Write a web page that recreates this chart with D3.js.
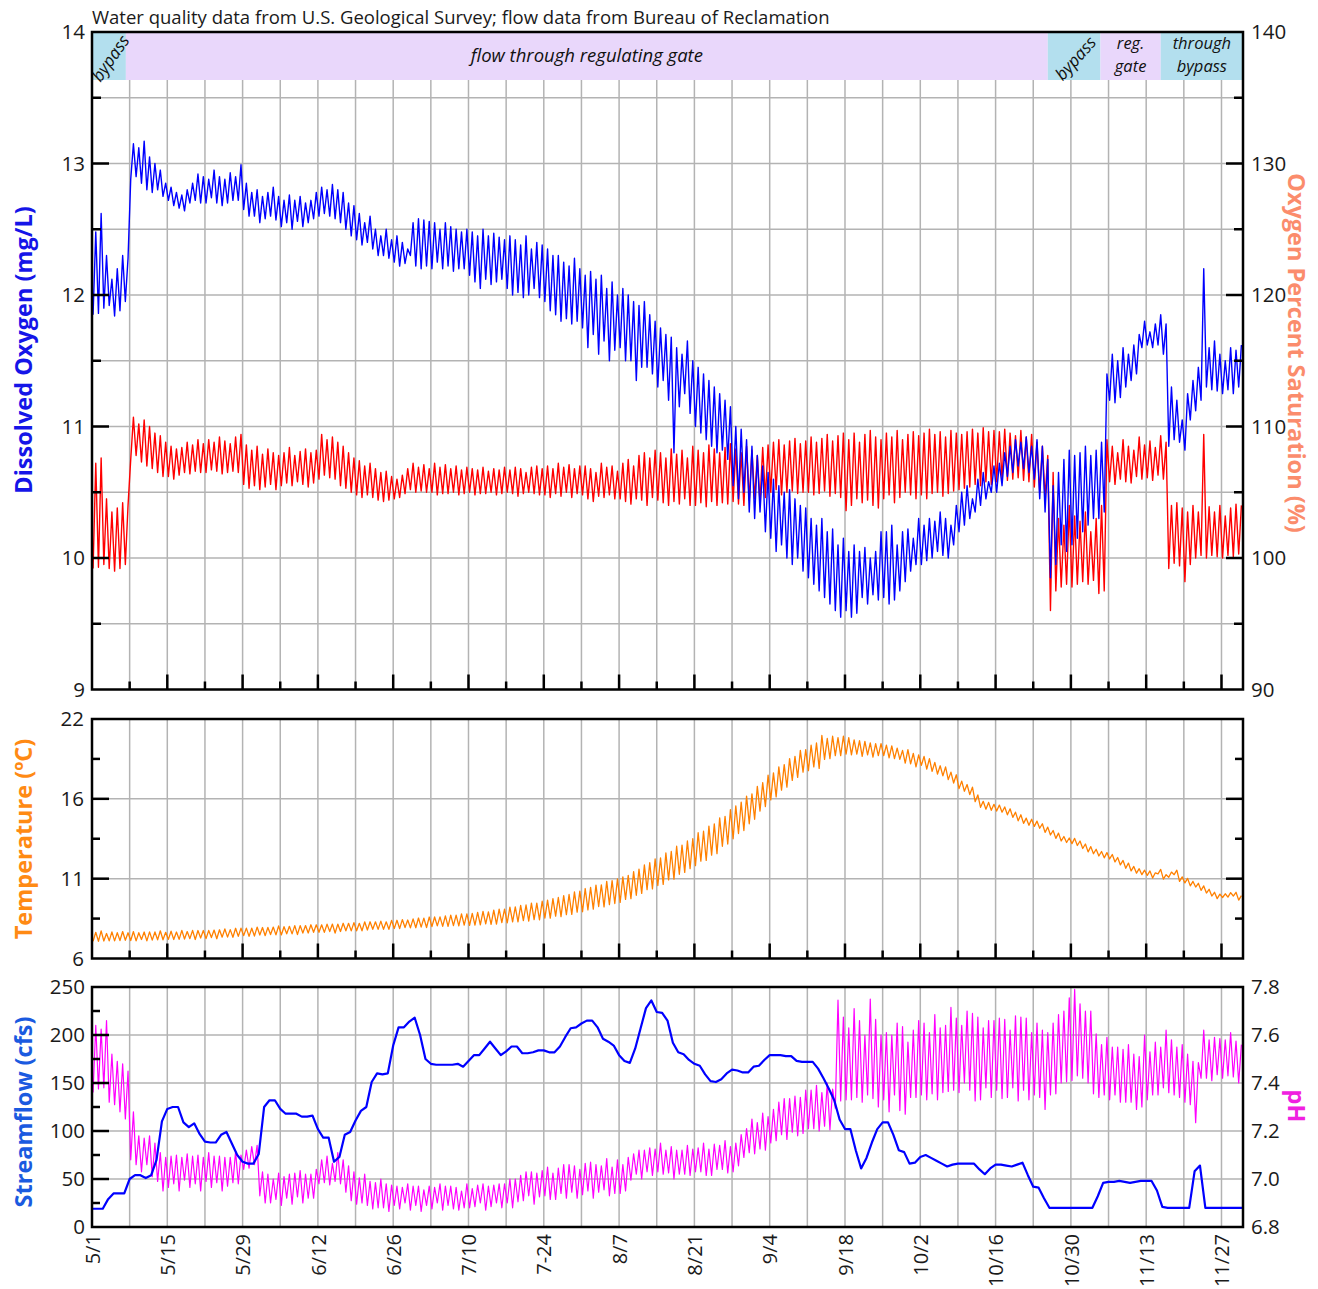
<!DOCTYPE html>
<html><head><meta charset="utf-8">
<script src="https://cdn.jsdelivr.net/npm/d3@7"></script>
<style>
body{margin:0;background:#fff;}
svg text{font-family:"Open Sans","Noto Sans",sans-serif;}
</style></head><body>
<svg id="chart" width="1318" height="1289"></svg>
<script>
// ---------------- DATA (daily values, day 0 = May 1) ----------------
const doMax = [12.48,12.62,12.3,12.12,12.2,12.3,12.28, 13.15,13.12,13.17,13.05,13.0,12.95,12.85,
12.82,12.78,12.76,12.8,12.85,12.92,12.9, 12.88,12.95,12.9,12.88,12.93,12.9,12.99,
12.85,12.78,12.8,12.75,12.78,12.82,12.75, 12.72,12.76,12.72,12.75,12.7,12.72,12.78,
12.82,12.8,12.84,12.8,12.78,12.7,12.68, 12.62,12.55,12.6,12.5,12.45,12.5,12.42,
12.45,12.4,12.35,12.55,12.58,12.57,12.56, 12.55,12.5,12.55,12.52,12.5,12.48,12.5,
12.48,12.45,12.5,12.45,12.47,12.44,12.42, 12.45,12.42,12.38,12.45,12.35,12.4,12.38,
12.35,12.3,12.3,12.25,12.22,12.28,12.2, 12.15,12.18,12.12,12.15,12.05,12.1,12.0,
12.05,12.0,11.95,11.92,11.95,11.85,11.8, 11.75,11.7,11.68,11.6,11.55,11.65,11.5,
11.45,11.4,11.35,11.3,11.25,11.2,11.15, 11.0,10.98,10.9,10.85,10.78,10.7,10.65,
10.6,10.55,10.5,10.52,10.45,10.4,10.38, 10.3,10.25,10.3,10.2,10.22,10.1,10.15,
10.05,10.1,10.05,10.08,10.0,10.05,10.2, 10.2,10.25,10.1,10.2,10.22,10.15,10.3,
10.25,10.3,10.28,10.35,10.3,10.25,10.4, 10.5,10.55,10.45,10.6,10.65,10.58,10.7,
10.72,10.8,10.85,10.9,10.88,10.92,10.85, 10.9,10.85,10.75,10.55,10.65,10.75,10.82,
10.78,10.8,10.85,10.78,10.82,10.88,11.4, 11.55,11.5,11.6,11.55,11.62,11.7,11.8,
11.72,11.78,11.85,11.78,11.3,11.2,11.05, 11.25,11.35,11.45,12.2,11.6,11.65,11.55,
11.5,11.6,11.58,11.62];
const doMin = [11.85,11.86,11.9,11.92,11.84,11.88,11.95, 12.88,12.9,12.85,12.8,12.78,12.8,12.75,
12.72,12.68,12.66,12.64,12.7,12.72,12.7, 12.7,12.74,12.7,12.68,12.7,12.72,12.72,
12.65,12.6,12.6,12.55,12.58,12.6,12.57, 12.52,12.55,12.5,12.56,12.52,12.55,12.58,
12.6,12.62,12.6,12.58,12.55,12.5,12.45, 12.42,12.38,12.4,12.35,12.3,12.3,12.28,
12.25,12.22,12.24,12.3,12.22,12.2,12.22, 12.2,12.25,12.2,12.22,12.18,12.2,12.2,
12.15,12.1,12.05,12.12,12.08,12.1,12.12, 12.05,12.0,12.02,11.98,12.0,12.05,11.98,
11.95,11.88,11.85,11.8,11.82,11.78,11.8, 11.75,11.6,11.7,11.55,11.65,11.5,11.58,
11.6,11.5,11.5,11.35,11.45,11.45,11.4, 11.3,11.35,11.2,10.8,11.15,11.25,11.1,
11.0,10.95,10.9,10.85,10.8,10.82,10.75, 10.55,10.45,10.5,10.35,10.3,10.35,10.2,
10.15,10.05,10.1,10.0,9.95,10.0,9.9, 9.85,9.8,9.75,9.7,9.65,9.6,9.55,
9.6,9.55,9.58,9.7,9.65,9.72,9.68, 9.7,9.65,9.68,9.75,9.82,9.9,9.95,
9.95,9.98,10.0,10.05,10.02,10.0,10.1, 10.2,10.25,10.3,10.35,10.4,10.45,10.5,
10.5,10.55,10.62,10.65,10.7,10.68,10.65, 10.6,10.45,10.35,9.85,9.95,10.1,10.05,
10.1,10.15,10.2,10.25,10.3,10.3,10.35, 11.2,11.18,11.22,11.3,11.35,11.4,11.6,
11.62,11.6,11.62,11.55,10.85,10.9,10.88, 10.82,11.05,11.12,11.2,11.3,11.28,11.27,
11.25,11.28,11.25,11.3];
const satMax = [107.2,107.6,104.5,103.5,103.8,104.2,104.0, 110.7,110.2,110.5,110.0,109.5,109.3,108.8,
108.5,108.3,108.4,108.8,108.6,109.0,108.7, 109.0,108.8,109.2,108.9,108.7,109.2,109.4,
108.6,108.2,108.5,107.9,108.3,108.0,107.8, 108.0,108.4,107.8,108.1,108.3,108.0,108.2,
109.4,109.0,109.2,108.8,108.5,108.0,107.6, 107.4,107.0,107.2,106.8,106.5,106.6,106.2,
106.0,106.3,106.8,107.2,106.9,107.1,106.8, 107.2,106.9,107.1,106.8,107.0,106.7,106.9,
106.8,106.7,106.9,106.6,106.8,106.7,106.9, 106.7,106.9,106.8,106.5,106.9,107.0,106.8,
107.0,106.8,107.2,106.9,107.1,106.8,107.0, 107.0,106.8,106.5,107.2,106.9,107.0,106.6,
107.2,107.5,107.0,107.8,108.0,107.6,108.2, 108.0,107.6,108.3,107.9,108.2,107.6,108.5,
108.2,108.0,108.6,108.3,108.0,108.4,108.7, 108.3,108.0,108.5,108.2,107.8,108.4,108.6,
108.8,109.0,108.6,108.9,109.1,108.7,108.9, 109.2,108.8,109.1,109.4,108.9,109.3,109.5,
109.0,109.5,108.8,109.4,109.7,109.2,109.0, 109.5,109.2,109.7,109.0,109.4,109.6,109.3,
109.5,109.8,109.4,109.6,109.2,109.7,109.5, 109.4,109.6,109.8,109.5,109.9,109.6,109.7,
109.6,109.8,109.5,109.3,109.7,109.2,109.4, 108.8,108.5,107.8,106.5,103.0,102.5,104.0,
103.2,102.8,103.5,102.0,103.0,104.0,109.0, 108.5,108.0,109.0,108.5,108.2,109.2,108.6,
108.9,108.4,109.3,108.8,104.0,104.2,103.8, 103.5,104.0,103.5,109.4,103.9,103.5,104.0,
103.2,103.8,104.1,104.0];
const satMin = [99.2,99.3,99.5,99.2,99.0,99.2,99.5, 107.5,107.8,107.3,107.0,106.8,106.5,106.2,
106.2,106.0,106.3,106.5,106.4,106.6,106.5, 106.5,106.7,106.6,106.4,106.5,106.6,106.5,
105.6,105.3,105.5,105.2,105.4,105.6,105.2, 105.5,105.7,105.5,105.8,105.6,105.4,105.7,
106.0,106.3,106.1,106.0,105.5,105.3,105.0, 104.8,104.6,104.8,104.6,104.4,104.3,104.4,
104.5,104.6,104.9,105.2,105.0,105.1,105.0, 105.0,104.8,104.9,104.9,105.0,104.8,104.9,
105.0,104.8,104.9,104.9,105.0,104.8,104.9, 105.0,104.9,104.7,104.9,105.0,104.9,104.8,
104.8,104.6,104.9,104.7,105.0,104.6,104.9, 104.8,104.5,104.3,104.7,104.6,104.8,104.5,
104.5,104.3,104.1,104.5,104.4,104.0,104.6, 104.4,104.2,104.0,104.3,104.1,104.5,104.0,
104.0,104.2,103.9,104.3,104.0,104.2,104.1, 104.3,104.1,104.0,104.4,104.5,104.2,104.6,
105.0,105.2,104.8,105.0,105.1,104.9,105.0, 105.0,104.8,104.9,105.1,104.7,104.9,104.6,
103.6,104.0,104.5,104.2,104.4,104.0,103.8, 104.5,104.8,104.2,104.6,105.0,104.8,104.5,
104.8,104.5,104.9,105.0,104.7,104.9,105.1, 105.2,105.3,105.4,105.6,105.5,105.8,105.6,
105.8,106.0,105.9,106.0,106.1,105.9,105.8, 105.4,105.0,104.6,96.0,97.5,97.8,98.0,
97.8,98.0,98.2,98.0,98.3,97.3,97.5, 105.8,105.6,106.0,105.8,105.7,106.2,106.0,
106.1,105.9,106.3,106.0,99.2,99.6,99.4, 98.2,99.5,100.0,100.2,100.0,100.2,100.1,
100.0,100.2,100.1,100.3];
const tempMean = [7.45,7.5,7.42,7.48,7.45,7.5,7.47,7.5,7.45,7.52,7.48,7.5,7.55,7.5,
7.55,7.52,7.58,7.55,7.6,7.57,7.62,7.6,7.65,7.62,7.7,7.68,7.72,7.75,
7.78,7.75,7.8,7.82,7.8,7.85,7.88,7.85,7.9,7.92,7.9,7.95,7.98,8.0,
8.0,8.02,8.05,8.0,8.08,8.1,8.12,8.1,8.15,8.18,8.2,8.22,8.2,8.25,
8.28,8.3,8.32,8.35,8.38,8.4,8.42,8.45,8.48,8.5,8.52,8.55,8.58,8.6,
8.62,8.65,8.7,8.72,8.75,8.8,8.85,8.9,8.95,9.0,9.05,9.1,9.15,9.2,
9.3,9.35,9.45,9.5,9.6,9.7,9.8,9.9,10.0,10.1,10.2,10.3,10.4,10.5,
10.6,10.75,10.9,11.1,11.3,11.5,11.65,11.8,12.0,12.2,12.4,12.6,12.8,13.0,
13.3,13.5,13.7,13.95,14.2,14.5,14.8,15.1,15.4,15.7,16.0,16.4,16.8,17.2,
17.5,17.8,18.1,18.4,18.7,19.0,19.2,19.4,19.6,19.8,20.0,20.1,20.15,20.2,
20.2,20.1,20.1,20.0,20.0,19.9,19.95,19.9,19.8,19.7,19.6,19.5,19.35,19.2,
19.2,19.0,18.8,18.6,18.5,18.2,18.0,17.6,17.4,17.2,16.7,16.3,16.2,16.1,
16.05,15.95,15.8,15.6,15.4,15.2,15.1,15.0,14.85,14.6,14.4,14.2,14.0,13.9,
13.85,13.7,13.5,13.3,13.15,13.0,12.9,12.8,12.6,12.4,12.2,12.0,11.85,11.75,
11.7,11.55,11.8,11.45,11.6,11.75,11.3,11.2,11.0,10.9,10.7,10.5,10.3,10.15,
10.2,10.25,10.3,10.05];
const tempRange = [0.6,0.7,0.5,0.6,0.55,0.6,0.5,0.6,0.55,0.5,0.6,0.55,0.6,0.5,
0.55,0.5,0.6,0.5,0.55,0.6,0.5,0.55,0.5,0.6,0.55,0.5,0.6,0.55,
0.5,0.55,0.6,0.5,0.55,0.5,0.6,0.55,0.5,0.55,0.6,0.5,0.55,0.5,
0.5,0.55,0.5,0.6,0.55,0.5,0.55,0.5,0.6,0.55,0.5,0.55,0.5,0.6,
0.55,0.6,0.5,0.6,0.65,0.6,0.7,0.65,0.6,0.7,0.75,0.7,0.8,0.75,
0.8,0.85,0.9,0.8,0.95,1.0,0.9,1.05,1.0,1.1,1.05,1.2,1.1,1.25,
1.2,1.3,1.25,1.4,1.35,1.5,1.4,1.55,1.5,1.6,1.45,1.7,1.6,1.65,
1.7,1.6,1.8,1.75,1.9,1.8,2.0,1.85,2.1,1.9,2.2,1.95,2.1,2.0,
2.2,2.0,2.3,2.1,2.4,2.0,2.3,2.2,2.1,2.3,2.0,2.2,1.9,2.1,
1.8,2.0,1.7,1.9,1.6,1.8,1.5,1.7,1.6,2.2,1.4,1.5,1.2,1.3,
1.1,1.0,0.9,1.0,0.8,0.9,0.8,0.7,0.8,0.7,0.6,0.9,0.7,0.8,
0.6,0.7,0.6,0.55,0.6,0.5,0.55,0.5,0.45,0.5,0.45,0.4,0.45,0.4,
0.4,0.35,0.4,0.35,0.4,0.35,0.4,0.35,0.3,0.35,0.3,0.35,0.3,0.3,
0.35,0.3,0.3,0.35,0.3,0.3,0.35,0.3,0.3,0.3,0.35,0.3,0.3,0.3,
0.3,0.35,0.3,0.3,0.35,0.3,0.3,0.3,0.3,0.25,0.3,0.25,0.25,0.3,
0.25,0.3,0.25,0.3];
const streamflow = [19,19,19,29,35,35,35, 50,54,54,51,54,70,110,
123,125,125,109,104,108,97, 89,88,88,96,99,87,75,
68,66,66,76,125,132,132, 123,118,118,118,115,115,116,
102,93,93,68,73,96,99, 111,121,125,151,160,159,160,
189,208,208,214,218,200,175, 170,169,169,169,169,170,167,
173,179,179,186,193,186,179, 183,188,188,181,181,182,184,
184,182,182,188,198,207,208, 212,215,215,208,196,193,189,
179,173,171,186,207,228,236, 224,223,215,192,182,180,174,
170,168,159,152,151,154,160, 164,163,161,161,167,168,174,
179,179,179,178,178,173,172, 172,172,165,155,144,132,112,
102,102,80,61,72,88,102, 109,109,96,80,78,66,67,
73,75,72,69,66,63,65, 66,66,66,66,60,55,61,
65,65,64,63,65,67,54, 42,41,30,20,20,20,20,
20,20,20,20,20,32,46, 47,47,48,47,46,47,48,
48,48,38,21,20,20,20, 20,20,58,64,20,20,20,
20,20,20,20,20];
const phMean = [7.5,7.5,7.52,7.42,7.4,7.38,7.35, 7.18,7.12,7.1,7.12,7.08,7.05,7.02,
7.03,7.04,7.02,7.05,7.03,7.04,7.02, 7.05,7.03,7.04,7.02,7.03,7.05,7.04,
7.08,7.09,7.1,6.98,6.96,6.95,6.97, 6.95,6.97,6.96,6.98,6.96,6.97,6.98,
7.03,7.04,7.02,7.05,7.03,7.0,6.97, 6.95,6.96,6.94,6.93,6.94,6.93,6.92,
6.93,6.92,6.94,6.92,6.93,6.91,6.93, 6.92,6.94,6.92,6.93,6.92,6.91,6.93,
6.92,6.93,6.94,6.92,6.93,6.94,6.93, 6.95,6.94,6.96,6.97,6.98,6.96,6.98,
6.99,6.97,6.98,7.0,6.99,7.0,6.98, 7.0,7.01,6.99,7.0,7.02,6.99,7.01,
7.0,7.02,7.05,7.07,7.06,7.08,7.07, 7.09,7.07,7.08,7.06,7.07,7.08,7.07,
7.08,7.09,7.07,7.08,7.09,7.1,7.08, 7.09,7.12,7.15,7.18,7.17,7.2,7.19,
7.22,7.24,7.26,7.25,7.27,7.26,7.28, 7.29,7.3,7.28,7.31,7.29,7.52,7.5,
7.48,7.52,7.5,7.46,7.55,7.5,7.45, 7.47,7.44,7.5,7.46,7.42,7.48,7.5,
7.5,7.47,7.52,7.48,7.5,7.54,7.52, 7.5,7.55,7.53,7.5,7.48,7.52,7.5,
7.52,7.5,7.48,7.53,7.5,7.52,7.47, 7.5,7.48,7.45,7.5,7.52,7.55,7.58,
7.6,7.58,7.56,7.55,7.48,7.45,7.47, 7.44,7.45,7.43,7.44,7.42,7.4,7.45,
7.43,7.46,7.45,7.5,7.47,7.45,7.45, 7.42,7.4,7.36,7.52,7.5,7.5,7.51,
7.5,7.52,7.5,7.48];
const phRange = [0.28,0.25,0.28,0.2,0.18,0.2,0.2, 0.2,0.12,0.14,0.12,0.14,0.12,0.14,
0.13,0.12,0.14,0.11,0.13,0.12,0.14, 0.12,0.13,0.11,0.14,0.12,0.13,0.12,
0.08,0.09,0.08,0.1,0.12,0.1,0.11, 0.12,0.1,0.13,0.11,0.12,0.1,0.12,
0.1,0.11,0.09,0.12,0.1,0.11,0.12, 0.11,0.12,0.1,0.11,0.12,0.1,0.11,
0.08,0.09,0.08,0.1,0.08,0.09,0.08, 0.09,0.08,0.1,0.08,0.09,0.08,0.1,
0.08,0.09,0.08,0.1,0.09,0.08,0.1, 0.1,0.12,0.11,0.12,0.1,0.13,0.11,
0.12,0.11,0.13,0.12,0.14,0.11,0.12, 0.13,0.12,0.14,0.11,0.13,0.12,0.14,
0.12,0.14,0.11,0.1,0.12,0.1,0.11, 0.12,0.1,0.11,0.12,0.1,0.12,0.11,
0.1,0.12,0.11,0.13,0.1,0.12,0.11, 0.12,0.13,0.12,0.14,0.13,0.15,0.14,
0.14,0.16,0.15,0.17,0.15,0.16,0.18, 0.16,0.18,0.16,0.18,0.17,0.45,0.35,
0.3,0.38,0.32,0.28,0.4,0.33,0.3, 0.28,0.32,0.3,0.35,0.3,0.28,0.32,
0.3,0.28,0.33,0.3,0.28,0.35,0.3, 0.28,0.3,0.32,0.35,0.3,0.28,0.32,
0.3,0.33,0.28,0.3,0.35,0.3,0.28, 0.3,0.28,0.32,0.3,0.33,0.3,0.35,
0.38,0.3,0.28,0.3,0.25,0.22,0.24, 0.22,0.2,0.22,0.24,0.2,0.22,0.3,
0.2,0.22,0.2,0.24,0.22,0.2,0.22, 0.2,0.18,0.25,0.2,0.16,0.18,0.15,
0.16,0.18,0.15,0.16];

// operating periods (day offsets from May 1)
const bandStart = [0, 6.3, 177.7, 187.5, 198.7];
const bandEnd   = [6.3, 177.7, 187.5, 198.7, 214];
const bandKind  = ["bypass", "gate", "bypass", "gate", "bypass"];
const bandText  = [["bypass"], ["flow through regulating gate"], ["bypass"], ["reg.", "gate"], ["through", "bypass"]];
const bandAngle = [-55, 0, -48, 0, 0];

const doTicks = [9, 10, 11, 12, 13, 14];
const satTicks = [90, 100, 110, 120, 130, 140];
const tempTickValues = [6, 11.333, 16.667, 22];
const tempTickLabels = ["6", "11", "16", "22"];
const flowTicks = [0, 50, 100, 150, 200, 250];
const phTicks = [6.8, 7.0, 7.2, 7.4, 7.6, 7.8];
const xTickLabels = ["5/1","5/15","5/29","6/12","6/26","7/10","7-24","8/7","8/21","9/4","9/18","10/2","10/16","10/30","11/13","11/27"];
const titleText = "Water quality data from U.S. Geological Survey; flow data from Bureau of Reclamation";

// ---------------- LAYOUT ----------------
const svg = d3.select("#chart");
const FONT = '"Open Sans","Noto Sans",sans-serif';
const L = 92, R = 1243;
const P1 = {t: 32, b: 689.5}, P2 = {t: 719, b: 958.5}, P3 = {t: 987, b: 1227};
const GRID = "#b3b3b3";
const base = Date.UTC(2019, 4, 1);
const day = t => new Date(base + t * 86400000);

const x = d3.scaleUtc().domain([day(0), day(214)]).range([L, R]);
const yDO = d3.scaleLinear().domain([9, 14]).range([P1.b, P1.t]);
const ySat = d3.scaleLinear().domain([90, 140]).range([P1.b, P1.t]);
const yT = d3.scaleLinear().domain([6, 22]).range([P2.b, P2.t]);
const yQ = d3.scaleLinear().domain([0, 250]).range([P3.b, P3.t]);
const yPH = d3.scaleLinear().domain([6.8, 7.8]).range([P3.b, P3.t]);

const weekly = d3.range(7, 214, 7);

function clip(id, p) {
  svg.append("clipPath").attr("id", id).append("rect")
    .attr("x", L).attr("y", p.t).attr("width", R - L).attr("height", p.b - p.t);
}
clip("c1", P1); clip("c2", P2); clip("c3", P3);

function vgrid(p, top) {
  svg.append("g").selectAll("line").data(weekly).join("line")
    .attr("x1", d => x(day(d))).attr("x2", d => x(day(d)))
    .attr("y1", top).attr("y2", p.b)
    .attr("stroke", GRID).attr("stroke-width", 1.5);
}
function hgrid(vals, scale) {
  svg.append("g").selectAll("line").data(vals).join("line")
    .attr("x1", L).attr("x2", R)
    .attr("y1", d => scale(d)).attr("y2", d => scale(d))
    .attr("stroke", GRID).attr("stroke-width", 1.5);
}
function yTicks(vals, scale, side, len) {
  const x0 = side === "left" ? L : R;
  const dir = side === "left" ? 1 : -1;
  svg.append("g").selectAll("line").data(vals).join("line")
    .attr("x1", x0).attr("x2", x0 + dir * len)
    .attr("y1", d => scale(d)).attr("y2", d => scale(d))
    .attr("stroke", "#000").attr("stroke-width", 2.5);
}
function xTicks(p) {
  svg.append("g").selectAll("line").data(weekly).join("line")
    .attr("x1", d => x(day(d))).attr("x2", d => x(day(d)))
    .attr("y1", p.b).attr("y2", d => p.b - (d % 14 === 0 ? 15 : 8))
    .attr("stroke", "#000").attr("stroke-width", 2.5);
}
function frame(p) {
  svg.append("rect").attr("x", L).attr("y", p.t).attr("width", R - L).attr("height", p.b - p.t)
    .attr("fill", "none").attr("stroke", "#000").attr("stroke-width", 2.5);
}
function labelAxis(axis, tx) {
  const g = svg.append("g").attr("transform", `translate(${tx},0)`).call(axis);
  g.select(".domain").remove();
  g.selectAll("line").remove();
  g.attr("font-family", null).attr("font-size", null);
  g.selectAll("text").attr("font-size", 20.5).attr("fill", "#1a1a1a").attr("font-family", FONT);
  return g;
}
function zigzag(lo, hi) {
  const pts = [];
  lo.forEach((v, i) => { pts.push([i + 0.2, v]); pts.push([i + 0.7, hi[i]]); });
  return pts;
}
function drawLine(pts, yScale, color, width, clipId) {
  svg.append("path").datum(pts)
    .attr("clip-path", `url(#${clipId})`)
    .attr("fill", "none").attr("stroke", color).attr("stroke-width", width)
    .attr("stroke-linejoin", "round")
    .attr("d", d3.line().x(d => x(day(d[0]))).y(d => yScale(d[1])));
}

// ---------------- PANEL 1: DO / saturation ----------------
vgrid(P1, P1.t);
hgrid(d3.range(9.5, 14, 0.5), yDO);
const bandY0 = P1.t, bandY1 = 80;
svg.append("g").selectAll("rect").data(bandStart).join("rect")
  .attr("x", (d) => x(day(d)))
  .attr("width", (d, i) => x(day(bandEnd[i])) - x(day(d)))
  .attr("y", bandY0).attr("height", bandY1 - bandY0)
  .attr("fill", (d, i) => bandKind[i] === "bypass" ? "#b3dfee" : "#e9d7fb");
bandStart.forEach((s, i) => {
  const cx = (x(day(s)) + x(day(bandEnd[i]))) / 2;
  const cy = (bandY0 + bandY1) / 2;
  const lines = bandText[i];
  if (bandAngle[i] !== 0) {
    svg.append("text")
      .attr("transform", `translate(${cx + 1},${cy + 2}) rotate(${bandAngle[i]})`)
      .attr("text-anchor", "middle").attr("dominant-baseline", "central")
      .attr("font-style", "italic").attr("font-size", 17).attr("fill", "#111").text(lines[0]);
  } else if (lines.length === 1) {
    svg.append("text").attr("x", cx).attr("y", cy + 6)
      .attr("text-anchor", "middle")
      .attr("font-style", "italic").attr("font-size", 18.5).attr("fill", "#111").text(lines[0]);
  } else {
    const t = svg.append("text").attr("text-anchor", "middle")
      .attr("font-style", "italic").attr("font-size", 16.5).attr("fill", "#111");
    lines.forEach((s2, k) => t.append("tspan").attr("x", cx).attr("y", 49 + k * 22.5).text(s2));
  }
});
drawLine(zigzag(satMin, satMax), ySat, "#ff0000", 1.4, "c1");
drawLine(zigzag(doMin, doMax), yDO, "#0000ff", 1.4, "c1");
yTicks([10, 11, 12, 13], yDO, "left", 17);
yTicks(d3.range(9.5, 14, 1), yDO, "left", 9);
yTicks([100, 110, 120, 130], ySat, "right", 17);
yTicks(d3.range(95, 140, 10), ySat, "right", 9);
xTicks(P1);
frame(P1);
labelAxis(d3.axisLeft(yDO).tickValues(doTicks).tickSize(0).tickPadding(7).tickFormat(d3.format("d")), L);
labelAxis(d3.axisRight(ySat).tickValues(satTicks).tickSize(0).tickPadding(8).tickFormat(d3.format("d")), R);

// ---------------- PANEL 2: Temperature ----------------
vgrid(P2, P2.t);
hgrid([tempTickValues[1], tempTickValues[2]], yT);
const tLo = tempMean.map((m, i) => m - tempRange[i] / 2);
const tHi = tempMean.map((m, i) => m + tempRange[i] / 2);
drawLine(zigzag(tLo, tHi), yT, "#ff8000", 1.3, "c2");
const tMinor = [0, 1, 2].map(i => (tempTickValues[i] + tempTickValues[i + 1]) / 2);
yTicks([tempTickValues[1], tempTickValues[2]], yT, "left", 17);
yTicks(tMinor, yT, "left", 8);
yTicks([tempTickValues[1], tempTickValues[2]], yT, "right", 17);
yTicks(tMinor, yT, "right", 8);
xTicks(P2);
frame(P2);
labelAxis(d3.axisLeft(yT).tickValues(tempTickValues).tickSize(0).tickPadding(8).tickFormat((d, i) => tempTickLabels[i]), L);

// ---------------- PANEL 3: Streamflow / pH ----------------
vgrid(P3, P3.t);
hgrid([50, 100, 150, 200], yQ);
const pLo = phMean.map((m, i) => m - phRange[i] / 2);
const pHi = phMean.map((m, i) => m + phRange[i] / 2);
drawLine(zigzag(pLo, pHi), yPH, "#ff00ff", 1.2, "c3");
drawLine(streamflow.map((v, i) => [i, v]), yQ, "#0000ff", 2.2, "c3");
yTicks([50, 100, 150, 200], yQ, "left", 17);
yTicks(d3.range(25, 250, 50), yQ, "left", 8);
frame(P3);
labelAxis(d3.axisLeft(yQ).tickValues(flowTicks).tickSize(0).tickPadding(7).tickFormat(d3.format("d")), L);
labelAxis(d3.axisRight(yPH).tickValues(phTicks).tickSize(0).tickPadding(8).tickFormat(d3.format(".1f")), R);

// x axis labels (bottom)
const xg = svg.append("g").attr("transform", `translate(0,${P3.b})`)
  .call(d3.axisBottom(x).tickValues(d3.range(0, 214, 14).map(day)).tickSize(0).tickFormat((d, i) => xTickLabels[i]));
xg.select(".domain").remove();
xg.attr("font-family", null).attr("font-size", null);
xg.selectAll("text").attr("transform", "rotate(-90)").attr("x", -7).attr("y", 0).attr("dy", "0.36em")
  .style("text-anchor", "end").attr("font-size", 20).attr("fill", "#1a1a1a").attr("font-family", FONT);

// ---------------- TITLES ----------------
svg.append("text").attr("x", L).attr("y", 24).attr("font-size", 18.5).attr("fill", "#1a1a1a").text(titleText);
function vtitle(text, cx, cy, color, rot) {
  svg.append("text").attr("transform", `translate(${cx},${cy}) rotate(${rot})`)
    .attr("text-anchor", "middle").attr("dominant-baseline", "central")
    .attr("font-size", 23.5).attr("font-weight", "bold").attr("fill", color).text(text);
}
vtitle("Dissolved Oxygen (mg/L)", 23, 350, "#1515e8", -90);
vtitle("Temperature (ºC)", 23, 839, "#ff8a14", -90);
vtitle("Streamflow (cfs)", 23, 1112, "#1a5ae0", -90);
vtitle("Oxygen Percent  Saturation (%)", 1297, 353, "#fb8c6c", 90);
vtitle("pH", 1297, 1106, "#f020e0", 90);
</script>
</body></html>
